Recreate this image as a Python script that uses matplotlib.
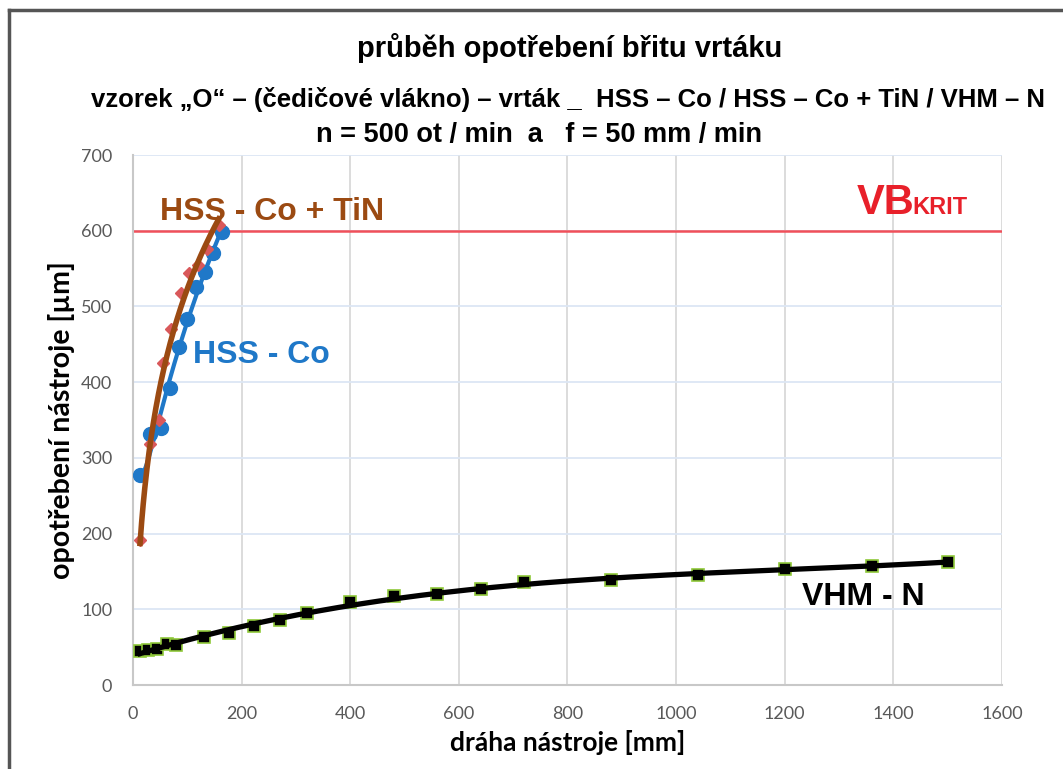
import numpy as np
import matplotlib.pyplot as plt
from matplotlib.lines import Line2D

# drilled length [mm] and flank wear [um]
hss_x = [13, 32, 52, 68, 84, 100, 116, 132, 148, 163]
hss_y = [277, 332, 340, 392, 447, 484, 526, 546, 571, 598]

tin_x = [13, 32, 48, 56, 70, 88, 104, 120, 136, 158]
tin_y = [192, 318, 350, 425, 470, 518, 544, 555, 576, 607]

vhm_x = [13, 28, 44, 62, 80, 130, 176, 223, 271, 320, 400, 480, 560, 640, 720,
         880, 1040, 1200, 1360, 1500]
vhm_y = [45, 46, 48, 54, 53, 63, 69, 78, 86, 95, 109, 118, 120, 127, 136,
         139, 145, 153, 157, 163]

vb_krit = 600
xticks = list(range(0, 1601, 200))
yticks = list(range(0, 701, 100))

title_font = ['Liberation Sans Narrow', 'Liberation Sans', 'DejaVu Sans']
label_font = ['Lato', 'DejaVu Sans']


def log_trend(x, y, deg=2, n=150):
    # trend line as a polynomial in ln(x)
    c = np.polyfit(np.log(x), y, deg)
    xs = np.linspace(min(x), max(x), n)
    return xs, np.polyval(c, np.log(xs))


fig = plt.figure(figsize=(10.63, 7.69), dpi=100)
ax = fig.add_axes([0.1251, 0.1092, 0.8175, 0.6892])

ax.set_xlim(0, 1600)
ax.set_ylim(0, 700)
ax.set_xticks(xticks)
ax.set_yticks(yticks)
ax.grid(axis='x', color='#d9d9d9', lw=1.3)
ax.grid(axis='y', color='#dce6f4', lw=1.3)
ax.set_axisbelow(True)
for s in ['top', 'right']:
    ax.spines[s].set_visible(False)
for s in ['left', 'bottom']:
    ax.spines[s].set_color('#c8c8c8')
    ax.spines[s].set_linewidth(1.5)
ax.tick_params(length=0, pad=15, labelsize=13, labelcolor='#595959')
for lab in ax.get_xticklabels() + ax.get_yticklabels():
    lab.set_family(label_font)

# critical wear limit
ax.axhline(vb_krit, color='#f0505a', lw=1.8, zorder=2)

xs, ys = log_trend(hss_x, hss_y)
ax.plot(xs, ys, color='#1f78c8', lw=3, zorder=3)
ax.plot(hss_x, hss_y, 'o', color='#1f78c8', ms=10, zorder=4)

ax.plot(tin_x, tin_y, 'D', color='#d9585a', ms=6, zorder=4)
xt, yt = log_trend(tin_x, tin_y)
ax.plot(xt, yt, color='#9b4a12', lw=4, zorder=5)

ax.plot(vhm_x, vhm_y, 's', color='black', mec='#8fc83a', mew=1.2, ms=9, zorder=4)
xv = np.linspace(min(vhm_x), max(vhm_x), 200)
ax.plot(xv, np.polyval(np.polyfit(vhm_x, vhm_y, 3), xv), color='black', lw=3.8, zorder=5)

# series labels
ax.text(50, 625, 'HSS - Co + TiN', color='#9b4a12', fontsize=23, fontweight='bold',
        family=['Liberation Sans'], va='center')
ax.text(110, 436, 'HSS - Co', color='#1f78c8', fontsize=23, fontweight='bold',
        family=['Liberation Sans'], va='center')
ax.text(1232, 116, 'VHM - N', color='black', fontsize=23, fontweight='bold',
        family=['Liberation Sans'], va='center')
ax.text(1333, 622, 'VB', color='#e8202a', fontsize=30, fontweight='bold',
        family=['Liberation Sans'], va='baseline')
ax.text(1435, 622, 'KRIT', color='#e8202a', fontsize=17, fontweight='bold',
        family=['Liberation Sans'], va='baseline')

ax.set_xlabel('dráha nástroje [mm]', fontsize=19, fontweight='bold',
              family=label_font, labelpad=6)
ax.set_ylabel('opotřebení nástroje [µm]', fontsize=20.5, fontweight='bold',
              family=label_font, labelpad=4)

fig.text(0.5355, 0.9376, 'průběh opotřebení břitu vrtáku', ha='center', va='center',
         fontsize=21, fontweight='bold', family=title_font)
fig.text(0.5345, 0.870, 'vzorek \u201eO\u201c \u2013 (čedičové vlákno) \u2013 vrták _  HSS \u2013 Co / HSS \u2013 Co + TiN / VHM \u2013 N',
         ha='center', va='center', fontsize=18.5, fontweight='bold', family=title_font)
fig.text(0.507, 0.8245, 'n = 500 ot / min  a   f = 50 mm / min', ha='center', va='center',
         fontsize=19.5, fontweight='bold', family=title_font)

# frame around the chart
fig.add_artist(Line2D([0.0085, 0.0085], [0, 0.987], color='#555555', lw=2.5,
                      transform=fig.transFigure))
fig.add_artist(Line2D([0.0085, 1.0], [0.987, 0.987], color='#555555', lw=2.5,
                      transform=fig.transFigure))

plt.savefig('out.png', dpi=100)
